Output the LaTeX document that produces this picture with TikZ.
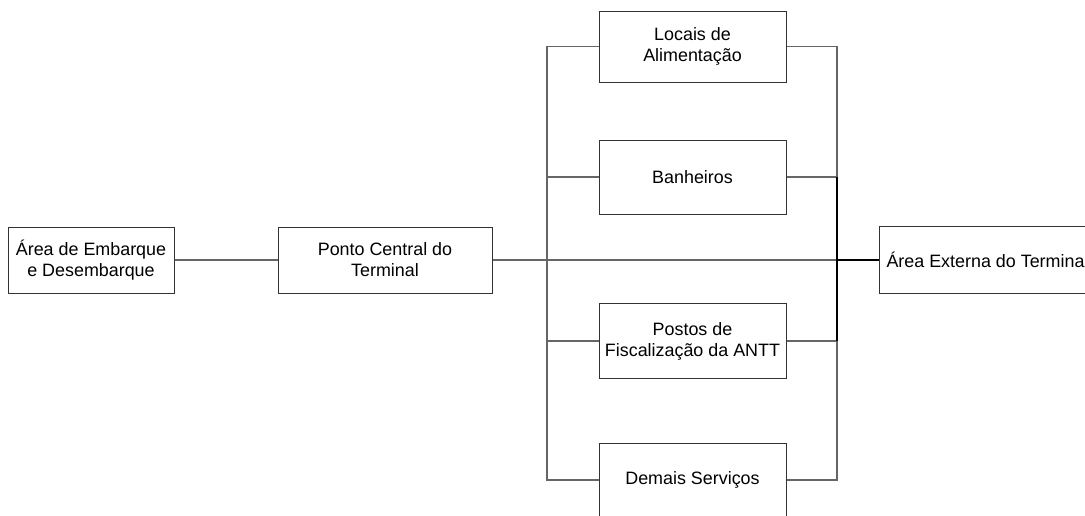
\documentclass[tikz,border=0pt]{standalone}
\usepackage{fontspec}
\setmainfont{Liberation Sans}
\begin{document}
\begin{tikzpicture}[x=1pt,y=-1pt,
  box/.style={draw=black!80,line width=1pt,fill=white,align=center,inner sep=0pt,
    font=\fontsize{17.9}{21}\selectfont},
  conn/.style={draw=black!60,line width=1.2pt},
  connk/.style={draw=black,line width=1.2pt}]
\clip (0,0) rectangle (1085,515);
\fill[white] (0,0) rectangle (1085,515);
% buses
\coordinate (lt) at (547,46);
\coordinate (rt) at (837,46);
% nodes
\node[box,minimum width=166pt,minimum height=66pt] (emb) at (91,260) {Área de Embarque\\e Desembarque};
\node[box,minimum width=214pt,minimum height=66pt] (pc) at (385,260) {Ponto Central do\\Terminal};
\node[box,minimum width=187pt,minimum height=71pt] (loc) at (692.5,46.5) {Locais de\\Alimentação};
\node[box,minimum width=187pt,minimum height=74pt] (ban) at (692.5,177) {Banheiros};
\node[box,minimum width=187pt,minimum height=75pt] (pos) at (692.5,341) {Postos de\\Fiscalização da ANTT};
\node[box,minimum width=187pt,minimum height=74pt] (dem) at (692.5,480) {Demais Serviços};
\node[box,minimum height=67pt,inner xsep=7pt,anchor=west] (ext) at (879,260) {Área Externa do Terminal};
% connectors
\draw[conn] (emb) -- (pc);
\draw[conn] (pc.east) -- (ext.west -| rt);
\draw[connk] (ext.west -| rt) -- (ext.west);
\draw[conn] (loc.west) -- (loc.west -| lt) -- (dem.west -| lt) -- (dem.west);
\draw[conn] (ban.west) -- (ban.west -| lt);
\draw[conn] (pos.west) -- (pos.west -| lt);
\draw[conn] (loc.east) -- (loc.east -| rt) -- (dem.east -| rt) -- (dem.east);
\draw[conn] (ban.east) -- (ban.east -| rt);
\draw[conn] (pos.east) -- (pos.east -| rt);
\draw[connk] (ban.east -| rt) -- (pos.east -| rt);
\end{tikzpicture}
\end{document}
